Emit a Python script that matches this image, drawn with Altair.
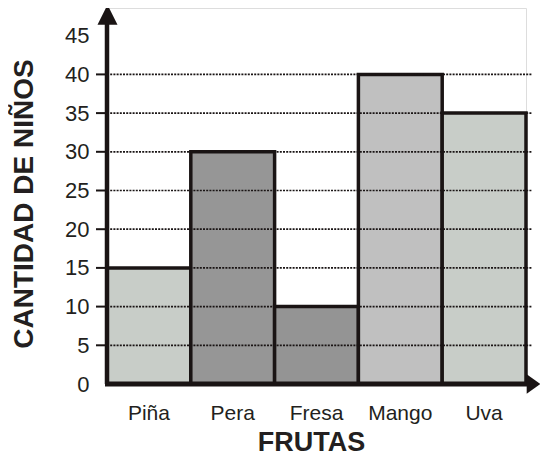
import altair as alt
import pandas as pd

frutas = ["Piña", "Pera", "Fresa", "Mango", "Uva"]
ninos = [15, 30, 10, 40, 35]
colores = ["#c8cdc8", "#969696", "#949494", "#c0c0c0", "#c8cdc8"]
y_ticks = [0, 5, 10, 15, 20, 25, 30, 35, 40, 45]
grid_vals = [5, 10, 15, 20, 25, 30, 35, 40]

df = pd.DataFrame({"fruta": frutas, "n": ninos, "color": colores})
grid_df = pd.DataFrame({"v": grid_vals})

W, H = 419, 376
YMAX = 48.58

xscale = alt.Scale(domain=frutas, paddingInner=0, paddingOuter=0)
yscale = alt.Scale(domain=[0, YMAX], nice=False, zero=True)
FONT = "Liberation Sans"

bars = alt.Chart(df).mark_bar(stroke="#1a1414", strokeWidth=3.5).encode(
    x=alt.X("fruta:N", scale=xscale, sort=frutas,
            axis=alt.Axis(title="FRUTAS", labelAngle=0, labelFontSize=21, labelFont=FONT,
                          labelColor="#231f20", ticks=False, tickSize=0, domain=False,
                          labelPadding=18, titleFont=FONT, titleFontSize=27,
                          titleFontWeight="bold", titleColor="#231f20",
                          titleX=204, titleY=66, titleBaseline="alphabetic",
                          titleAlign="center")),
    y=alt.Y("n:Q", scale=yscale,
            axis=alt.Axis(title="CANTIDAD DE NIÑOS", values=y_ticks, grid=False,
                          ticks=False, tickSize=0, domain=False, labelFontSize=22,
                          labelFont=FONT, labelColor="#231f20", labelPadding=18,
                          titleFont=FONT, titleFontSize=28, titleFontWeight="bold",
                          titleColor="#231f20", titleAngle=-90, titleX=-75,
                          titleY=195.5, titleBaseline="alphabetic", titleAlign="center")),
    color=alt.Color("color:N", scale=None),
)

grid = alt.Chart(grid_df).mark_rule(color="#1a1414", strokeWidth=1.7,
                                     strokeDash=[2, 1.2]).encode(
    y=alt.Y("v:Q", scale=yscale),
    x=alt.value(0), x2=alt.value(425),
)
ticks = alt.Chart(grid_df).mark_rule(color="#1a1414", strokeWidth=2).encode(
    y=alt.Y("v:Q", scale=yscale),
    x=alt.value(-11), x2=alt.value(0),
)

yaxis = alt.Chart(pd.DataFrame({"a": [0], "b": [46.8]})).mark_rule(
    color="#1a1414", strokeWidth=4.5).encode(
    x=alt.value(0), y=alt.Y("a:Q", scale=yscale), y2="b:Q")
xaxis = alt.Chart(pd.DataFrame({"a": [0]})).mark_rule(
    color="#1a1414", strokeWidth=5).encode(
    y=alt.Y("a:Q", scale=yscale), x=alt.value(-2), x2=alt.value(424))

up = alt.Chart(pd.DataFrame({"a": [47.7]})).mark_point(
    shape="M-1,1L1,1L0,-1Z", filled=True, color="#1a1414", opacity=1, size=400).encode(
    x=alt.value(0.5), y=alt.Y("a:Q", scale=yscale))
right = alt.Chart(pd.DataFrame({"a": [0]})).mark_point(
    shape="M-0.7,-1L0.7,0L-0.7,1Z", filled=True, color="#1a1414", opacity=1,
    size=380).encode(
    x=alt.value(426.5), y=alt.Y("a:Q", scale=yscale))

chart = alt.layer(bars, grid, ticks, yaxis, xaxis, up, right).properties(
    width=W, height=H,
    autosize=alt.AutoSizeParams(type="none"),
    padding={"left": 99, "top": 0, "right": 14, "bottom": 73},
).configure_view(stroke=None).configure(background="white")

chart.save("out.html", embed_options={"renderer": "svg", "actions": False})
